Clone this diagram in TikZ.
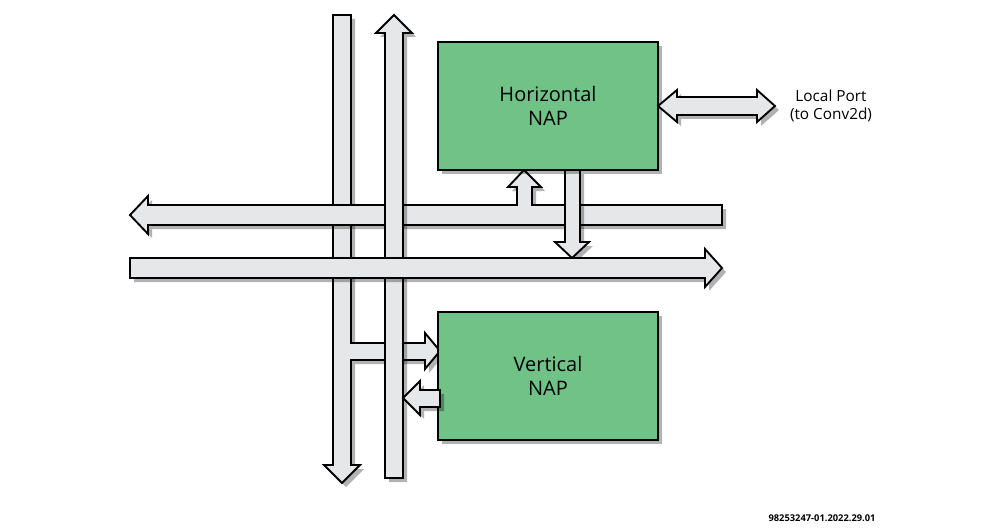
\documentclass[tikz,border=0pt]{standalone}
\usepackage{fontspec}
\setmainfont{Open Sans}
\usetikzlibrary{shadows}
\definecolor{arr}{HTML}{E6E7E8}
\definecolor{nap}{HTML}{71C286}
\begin{document}
\begin{tikzpicture}[x=0.75pt,y=-0.75pt,
  shd/.style={drop shadow={shadow xshift=3pt,shadow yshift=-3pt,opacity=0.3,fill=black}},
  ar/.style={fill=arr,draw=black,line width=1.4pt,line join=miter,shd},
  box/.style={fill=nap,draw=black,line width=1.4pt,shd,align=center,font=\fontsize{15}{18}\selectfont}]
\useasboundingbox (0,0) rectangle (1000,528);
% left vertical with branch
\draw[ar] (333,15) -- (351,15) -- (351,343) -- (425,343) -- (425,333) -- (440,351) -- (425,369) -- (425,360) -- (351,360) -- (351,465) -- (360,465) -- (342,483) -- (324,465) -- (333,465) -- cycle;
% top horizontal with branch up
\draw[ar] (722,205) -- (722,225) -- (148,225) -- (148,234) -- (130,215) -- (148,196) -- (148,205) -- (517,205) -- (517,187) -- (508,187) -- (524,170) -- (541,187) -- (532,187) -- (532,205) -- cycle;
% right vertical
\draw[ar] (385,478) -- (385,33) -- (376,33) -- (394,15) -- (412,33) -- (403,33) -- (403,478) -- cycle;
% down arrow
\draw[ar] (565,170) -- (580,170) -- (580,242) -- (589,242) -- (572,258) -- (555,242) -- (565,242) -- cycle;
% bottom horizontal
\draw[ar] (130,258) -- (705,258) -- (705,249) -- (722,268) -- (705,287) -- (705,278) -- (130,278) -- cycle;
% boxes
\node[box,minimum width=165pt,minimum height=96pt] (h) at (548,106) {Horizontal\\NAP};
\node[box,minimum width=165pt,minimum height=96pt] (v) at (548,376) {Vertical\\NAP};
% small leftward arrow
\draw[ar] (440,390) -- (440,407) -- (420,407) -- (420,415) -- (403,398) -- (420,381) -- (420,390) -- cycle;
% local port
\draw[ar] (658,106) -- (677,90) -- (677,97) -- (757,97) -- (757,90) -- (775,106) -- (757,122) -- (757,115) -- (677,115) -- (677,122) -- cycle;
\node[align=center,font=\fontsize{11.5}{14}\selectfont] (lp) at (831,106) {Local Port\\(to Conv2d)};
\node[font=\bfseries\fontsize{7}{8}\selectfont] (id) at (822,518) {98253247-01.2022.29.01};
\end{tikzpicture}
\end{document}
